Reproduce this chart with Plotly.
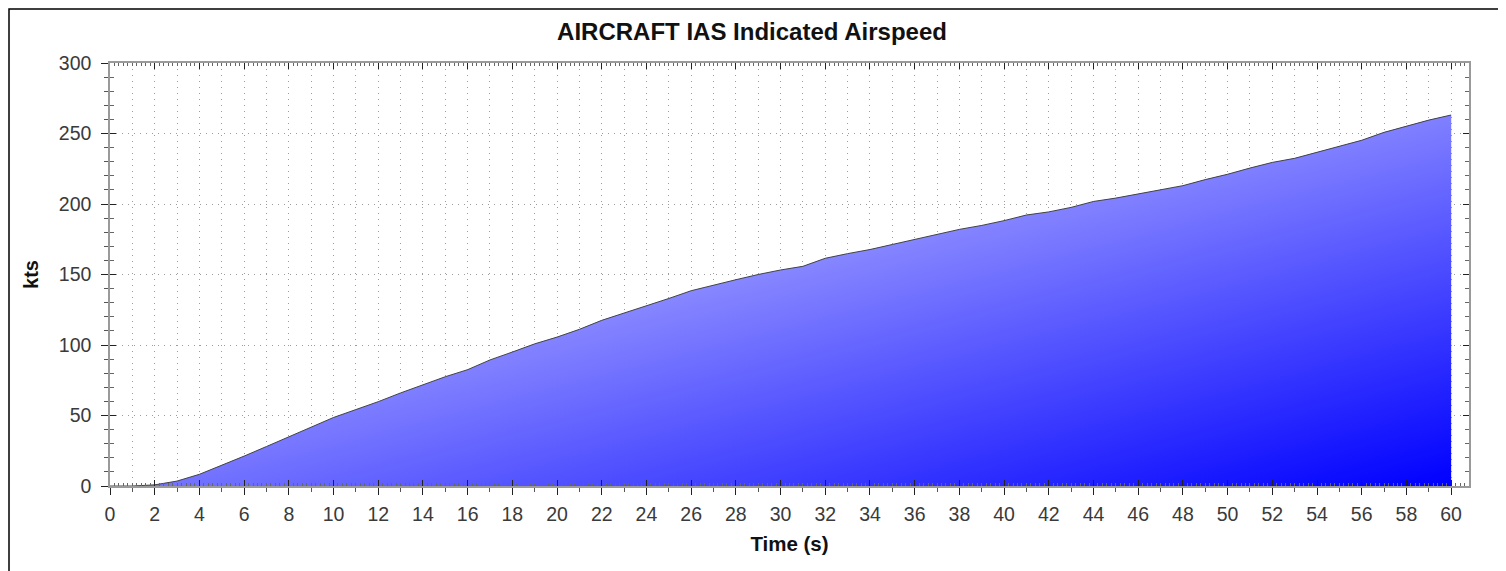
import plotly.graph_objects as go

# ---- data ----
time_s = list(range(0, 61))
ias_kts = [0.0, 0.0, 0.8, 3.5, 8.3, 14.5, 21.2, 28.0, 35.0, 42.0,
           48.6, 54.2, 59.8, 66.0, 71.6, 77.5, 82.5, 89.4, 95.0, 100.8,
           105.6, 111.1, 117.5, 122.5, 127.5, 133.0, 138.5, 142.6, 146.3, 150.0,
           153.2, 155.8, 161.5, 164.8, 167.7, 171.3, 174.8, 178.5, 182.0, 184.8,
           188.2, 192.2, 194.4, 197.6, 201.8, 204.2, 207.3, 210.2, 213.0, 217.3,
           221.1, 225.5, 229.5, 232.4, 236.7, 241.0, 245.2, 250.8, 255.0, 259.5,
           263.1]
x_ticks = list(range(0, 61, 2))
y_ticks = [0, 50, 100, 150, 200, 250, 300]

# page body has an 8px margin -> figure is 8px smaller each way
W, H = 1498, 563
ML, MR, MT, MB = 102, 37, 55, 85
PW, PH = W - ML - MR, H - MT - MB

FONT = "Liberation Sans, Arial, sans-serif"
GRID = "#9c9c9c"
AXLINE = "#9a9a9a"
DOT = "1px,5px"

fig = go.Figure()

# horizontal gradient layer
fig.add_trace(go.Scatter(
    uid="fill_h",
    x=time_s, y=ias_kts, mode="lines", line=dict(width=0), fill="tozeroy",
    fillgradient=dict(type="horizontal", start=0, stop=60,
                      colorscale=[[0, "rgb(240,240,255)"], [1, "rgb(0,0,255)"]]),
    hoverinfo="skip", showlegend=False))
# vertical gradient layer (half transparent) -> diagonal look
fig.add_trace(go.Scatter(
    uid="fill_v",
    x=time_s, y=ias_kts, mode="lines", line=dict(width=0), fill="tozeroy",
    fillgradient=dict(type="vertical", start=0, stop=263,
                      colorscale=[[0, "rgba(0,0,255,0.5)"], [1, "rgba(255,255,255,0.5)"]]),
    hoverinfo="skip", showlegend=False))
# outline
fig.add_trace(go.Scatter(
    uid="outline",
    x=time_s, y=ias_kts, mode="lines", line=dict(color="#444444", width=1),
    showlegend=False))
# invisible trace so overlay axes (inside ticks) are drawn
fig.add_trace(go.Scatter(
    uid="dummy",
    x=time_s, y=ias_kts, xaxis="x2", yaxis="y2", mode="lines",
    line=dict(width=0), opacity=0, hoverinfo="skip", showlegend=False))

fig.update_layout(
    width=W, height=H,
    margin=dict(l=ML, r=MR, t=MT, b=MB),
    paper_bgcolor="white", plot_bgcolor="white",
    font=dict(family=FONT, color="#333333", size=19),
    title=dict(text="<b>AIRCRAFT IAS Indicated Airspeed</b>",
               font=dict(family=FONT, size=24, color="#111111"),
               x=0.5 - 5 / W, xanchor="center", y=1 - 24 / H, yanchor="middle"),
    xaxis=dict(
        range=[0, 60.8], tickmode="array", tickvals=x_ticks,
        ticks="outside", ticklen=7, tickwidth=1, tickcolor="#222222",
        showline=True, linecolor=AXLINE, linewidth=1.5, mirror=True,
        showgrid=True, gridcolor=GRID, griddash=DOT, gridwidth=1,
        zeroline=False,
        minor=dict(tickmode="linear", tick0=0, dtick=1, ticks="outside",
                   ticklen=4, tickcolor="#555555", showgrid=True,
                   gridcolor=GRID, griddash=DOT, gridwidth=1),
        tickfont=dict(size=19.5, color="#3a3a3a"), ticklabelstandoff=3,
        title=dict(text="<b>Time (s)</b>", font=dict(size=20.5, color="#111111"),
                   standoff=12),
    ),
    xaxis2=dict(
        overlaying="x", anchor="y", side="bottom", range=[0, 60.8],
        tickmode="linear", tick0=0, dtick=2, ticks="inside", ticklen=6,
        tickcolor="#222222", showticklabels=False, showgrid=False,
        zeroline=False, showline=True, linecolor=AXLINE, linewidth=1.5,
        mirror="ticks",
        minor=dict(tickmode="linear", tick0=0, dtick=0.2, ticks="inside",
                   ticklen=3, tickcolor="#666666", showgrid=False),
    ),
    yaxis=dict(
        range=[0, 300], tickmode="array", tickvals=y_ticks,
        ticks="outside", ticklen=7, tickwidth=1, tickcolor="#222222",
        showline=True, linecolor=AXLINE, linewidth=1.5, mirror=True,
        showgrid=True, gridcolor=GRID, griddash=DOT, gridwidth=1,
        zeroline=False,
        minor=dict(tickmode="linear", tick0=0, dtick=10, ticks="outside",
                   ticklen=4, tickcolor="#555555", showgrid=False),
        tickfont=dict(size=19.5, color="#3a3a3a"), ticklabelstandoff=6,
        title=dict(text="<b>kts</b>", font=dict(size=20, color="#111111"),
                   standoff=15),
    ),
    yaxis2=dict(
        overlaying="y", anchor="x", side="left", range=[0, 300],
        tickmode="linear", tick0=0, dtick=50, ticks="inside", ticklen=6,
        tickcolor="#222222", showticklabels=False, showgrid=False,
        zeroline=False, showline=True, linecolor=AXLINE, linewidth=1.5,
        mirror="ticks",
        minor=dict(tickmode="linear", tick0=0, dtick=10, ticks="inside",
                   ticklen=4, tickcolor="#666666", showgrid=False),
    ),
    shapes=[dict(type="rect", xref="paper", yref="paper",
                 x0=(1 - ML) / PW, x1=(1491 - ML) / PW,
                 y0=-0.4, y1=(MT + PH - 1) / PH,
                 line=dict(color="black", width=1.5), layer="above")],
    showlegend=False,
)

fig.write_html("out.html")
